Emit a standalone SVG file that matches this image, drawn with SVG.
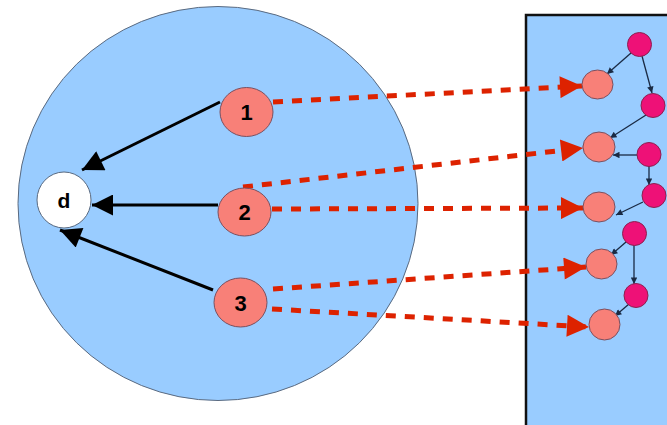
<svg xmlns="http://www.w3.org/2000/svg" width="667" height="425" viewBox="0 0 667 425">
  <defs>
    <style>
      .region { fill: #99ccff; stroke: #5a6a80; stroke-width: 1; }
      .peer { fill: #f88078; stroke: #7a5060; stroke-width: 1; }
      .home { fill: #ffffff; stroke: #5a6a80; stroke-width: 1; }
      .hub { fill: #ee1177; stroke: #8a2050; stroke-width: 1; }
      .lbl { font-family: "Liberation Sans", Arial, sans-serif; font-weight: bold; fill: #000; text-anchor: middle; }
      .route { stroke: #000; stroke-width: 3; fill: none; }
      .map { stroke: #dd2200; stroke-width: 5; stroke-dasharray: 10 9; fill: none; }
      .link { stroke: #1a2a44; stroke-width: 1.3; fill: none; }
    </style>
    <marker id="blackHead" viewBox="0 0 10 10" refX="10" refY="5" markerWidth="9" markerHeight="7" markerUnits="strokeWidth" orient="auto">
      <path d="M0,0 L10,5 L0,10 Z" fill="#000"/>
    </marker>
    <marker id="redHead" viewBox="0 0 10 10" refX="10" refY="5" markerWidth="6.2" markerHeight="4.4" markerUnits="strokeWidth" orient="auto">
      <path d="M0,0 L10,5 L0,10 Z" fill="#dd2200"/>
    </marker>
    <marker id="smallHead" viewBox="0 0 10 10" refX="10" refY="5" markerWidth="6" markerHeight="5" markerUnits="strokeWidth" orient="auto">
      <path d="M0,0 L10,5 L0,10 Z" fill="#1a2a44"/>
    </marker>
  </defs>

  <!-- enclosing domain -->
  <ellipse id="domain" class="region" cx="218" cy="203.5" rx="200" ry="197"/>

  <!-- remote panel -->
  <rect id="panel" x="526" y="15" width="160" height="430" fill="#99ccff" stroke="#111" stroke-width="2.5"/>

  <!-- connectors -->
  <g id="connectors">
    <line class="route" x1="220" y1="102" x2="82" y2="170" marker-end="url(#blackHead)"/>
    <line class="route" x1="218" y1="205" x2="92" y2="205" marker-end="url(#blackHead)"/>
    <line class="route" x1="213" y1="290" x2="60" y2="230" marker-end="url(#blackHead)"/>

    <line class="map" x1="273" y1="102" x2="582" y2="86" marker-end="url(#redHead)"/>
    <line class="map" x1="243" y1="187" x2="583" y2="148" marker-end="url(#redHead)"/>
    <line class="map" x1="272" y1="209" x2="583" y2="208" marker-end="url(#redHead)"/>
    <line class="map" x1="273" y1="289" x2="586" y2="267" marker-end="url(#redHead)"/>
    <line class="map" x1="272" y1="309" x2="589" y2="327" marker-end="url(#redHead)"/>

    <line class="link" x1="631" y1="53" x2="607" y2="74" marker-end="url(#smallHead)"/>
    <line class="link" x1="642" y1="56" x2="652" y2="93" marker-end="url(#smallHead)"/>
    <line class="link" x1="646" y1="115" x2="610" y2="138" marker-end="url(#smallHead)"/>
    <line class="link" x1="637" y1="155" x2="613" y2="155" marker-end="url(#smallHead)"/>
    <line class="link" x1="649" y1="166" x2="649" y2="185" marker-end="url(#smallHead)"/>
    <line class="link" x1="643" y1="202" x2="616" y2="215" marker-end="url(#smallHead)"/>
    <line class="link" x1="626" y1="242" x2="611" y2="255" marker-end="url(#smallHead)"/>
    <line class="link" x1="634" y1="245" x2="634" y2="284" marker-end="url(#smallHead)"/>
    <line class="link" x1="629" y1="304" x2="615" y2="316" marker-end="url(#smallHead)"/>
  </g>

  <!-- local nodes -->
  <g id="node-d">
    <ellipse class="home" cx="64" cy="200" rx="27" ry="28"/>
    <text class="lbl" x="64" y="207.5" font-size="21">d</text>
  </g>
  <g id="node-1">
    <ellipse class="peer" cx="246.5" cy="112" rx="26.5" ry="24.5"/>
    <text class="lbl" x="246.5" y="120" font-size="22">1</text>
  </g>
  <g id="node-2">
    <ellipse class="peer" cx="244.5" cy="212" rx="26.5" ry="24"/>
    <text class="lbl" x="244.5" y="220" font-size="22">2</text>
  </g>
  <g id="node-3">
    <ellipse class="peer" cx="240.5" cy="302.5" rx="26.5" ry="24.5"/>
    <text class="lbl" x="240.5" y="310.5" font-size="22">3</text>
  </g>

  <!-- remote targets -->
  <g id="target-1"><ellipse class="peer" cx="597.5" cy="84.5" rx="15.5" ry="14.5"/></g>
  <g id="target-2"><ellipse class="peer" cx="599" cy="147" rx="16" ry="15"/></g>
  <g id="target-3"><ellipse class="peer" cx="599" cy="207" rx="16" ry="15"/></g>
  <g id="target-4"><ellipse class="peer" cx="601.5" cy="264" rx="15.5" ry="15"/></g>
  <g id="target-5"><ellipse class="peer" cx="604.5" cy="324.5" rx="15.5" ry="15.5"/></g>

  <!-- remote relays -->
  <g id="relay-1"><circle class="hub" cx="639.5" cy="44.5" r="12"/></g>
  <g id="relay-2"><circle class="hub" cx="653" cy="105.5" r="12"/></g>
  <g id="relay-3"><circle class="hub" cx="649" cy="154.5" r="12"/></g>
  <g id="relay-4"><circle class="hub" cx="654" cy="195.5" r="12"/></g>
  <g id="relay-5"><circle class="hub" cx="634.5" cy="233.5" r="12"/></g>
  <g id="relay-6"><circle class="hub" cx="636" cy="295.5" r="12"/></g>
</svg>
